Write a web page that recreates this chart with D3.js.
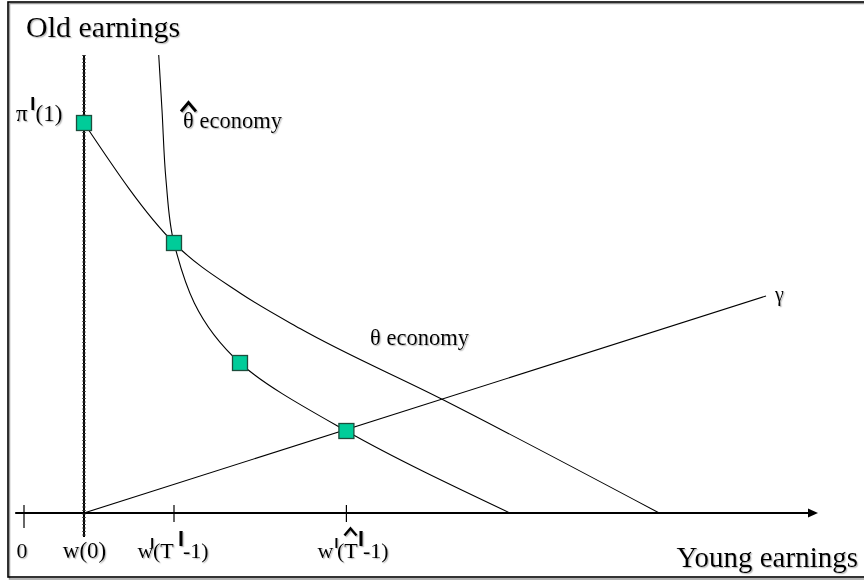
<!DOCTYPE html>
<html>
<head>
<meta charset="utf-8">
<title>Old and young earnings</title>
<script src="https://cdn.jsdelivr.net/npm/d3@7"></script>
<style>
	body {margin:0; background:#ffffff;}
	text {font-family:"Liberation Serif","Times New Roman",serif; fill:#000;}
	.bar {font-family:"Liberation Sans",Arial,sans-serif; font-weight:bold;}
</style>
</head>
<body>
<script>
//curve data (x = young earnings, y = old earnings)
var thetaX = [7.5, 18.75, 27, 34.5, 52.2, 79.4];
var thetaY = [78, 54, 44, 36.9, 22.8, 0];

var hatX = [16.84, 17.25, 17.75, 18.75, 27, 40.3, 60.75];
var hatY = [91.6, 80.6, 66.6, 54, 30, 16.4, 0];

var gammaX = [7.5, 92.75];
var gammaY = [0, 43.4];

//marked points (squares)
var pointX = [7.5, 18.75, 27, 40.3];
var pointY = [78, 54, 30, 16.4];

//ticks on the young earnings axis
var tickX = [0, 7.5, 18.75, 40.3];
var tickLabels = ["0", "w(0)"];

window.onload = function(){

	var w = 864, h = 585;

	var svg = d3.select("body")
		.append("svg")
		.attr("width", w)
		.attr("height", h);

	//soft grey shadow like the slide text
	var defs = svg.append("defs");
	defs.append("filter")
		.attr("id","shadow")
		.attr("x","-10%").attr("y","-10%")
		.attr("width","130%").attr("height","140%")
		.append("feDropShadow")
		.attr("dx",1.2).attr("dy",1.2)
		.attr("stdDeviation",0.6)
		.attr("flood-color","#888")
		.attr("flood-opacity",0.55);

	//scales: 8px per unit across, 5px per unit up
	var x = d3.scaleLinear().domain([0,100]).range([24,824]);
	var y = d3.scaleLinear().domain([0,100]).range([513,13]);

	//frame
	svg.append("rect")
		.attr("x",9.5).attr("y",3.5)
		.attr("width",900).attr("height",575.5)
		.style("fill","none")
		.style("stroke","#9a9a9a")
		.style("stroke-width",1.5);
	svg.append("rect")
		.attr("x",8).attr("y",2)
		.attr("width",900).attr("height",575)
		.style("fill","none")
		.style("stroke","#000")
		.style("stroke-width",1.6);

	//horizontal axis with arrow
	svg.append("line")
		.attr("x1",x(-1.1)).attr("x2",x(98.2))
		.attr("y1",y(0)).attr("y2",y(0))
		.style("stroke","#000")
		.style("stroke-width",1.8);
	svg.append("path")
		.attr("d","M"+x(99.25)+","+y(0)+"l-10,-4.5l0,9z")
		.style("fill","#000");

	//axis ticks
	svg.selectAll(".tick")
		.data(tickX)
		.enter()
		.append("line")
		.attr("class","tick")
		.attr("x1",function(d){ return x(d); })
		.attr("x2",function(d){ return x(d); })
		.attr("y1",y(0)-8)
		.attr("y2",function(d,i){ return i==0 ? y(0)+15 : y(0)+9; })
		.style("stroke","#000")
		.style("stroke-width",1.2);

	//vertical line at w(0) (dotted look)
	svg.append("line")
		.attr("x1",x(7.5)).attr("x2",x(7.5))
		.attr("y1",y(91.6)).attr("y2",y(-4.8))
		.style("stroke","#000")
		.style("stroke-width",2);
	svg.append("line")
		.attr("x1",x(7.5)).attr("x2",x(7.5))
		.attr("y1",y(91.6)).attr("y2",y(-4.8))
		.style("stroke","#333")
		.style("stroke-width",3.5)
		.style("stroke-dasharray","1,2.5");

	//curves: theta smooth along x, theta-hat smooth along y (it starts almost vertical)
	var lineX = d3.line()
		.x(function(d){ return x(d[0]); })
		.y(function(d){ return y(d[1]); })
		.curve(d3.curveMonotoneX);
	var lineY = d3.line()
		.x(function(d){ return x(d[0]); })
		.y(function(d){ return y(d[1]); })
		.curve(d3.curveMonotoneY);

	var curves = [
		{pts: d3.zip(thetaX, thetaY), gen: lineX},
		{pts: d3.zip(hatX, hatY), gen: lineY},
		{pts: d3.zip(gammaX, gammaY), gen: lineX}
	];

	svg.selectAll(".curve")
		.data(curves)
		.enter()
		.append("path")
		.attr("class","curve")
		.attr("d",function(d){ return d.gen(d.pts); })
		.style("fill","none")
		.style("stroke","#000")
		.style("stroke-width",1.1);

	//green squares
	svg.selectAll(".pt")
		.data(d3.zip(pointX, pointY))
		.enter()
		.append("rect")
		.attr("class","pt")
		.attr("x",function(d){ return x(d[0])-7.5; })
		.attr("y",function(d){ return y(d[1])-7.5; })
		.attr("width",15).attr("height",15)
		.style("fill","#00cc99")
		.style("stroke","#1d4d3c")
		.style("stroke-width",1.3);

	//all text goes in one shadowed group
	var txt = svg.append("g").attr("filter","url(#shadow)");

	txt.append("text")
		.attr("x",26).attr("y",37)
		.style("font-size","30px")
		.text("Old earnings");

	txt.append("text")
		.attr("x",858).attr("y",567)
		.attr("text-anchor","end")
		.style("font-size","29px")
		.text("Young earnings");

	//pi^I(1), one text with placed pieces
	var pi = txt.append("text").style("font-size","23px");
	pi.append("tspan").attr("x",16).attr("y",121).text("\u03c0");
	pi.append("tspan").attr("class","bar").attr("x",30.2).attr("y",110)
		.style("font-size","18px").text("I");
	pi.append("tspan").attr("x",35.5).attr("y",121).text("(1)");

	//theta hat economy
	txt.append("text")
		.attr("x",183).attr("y",128)
		.style("font-size","22.5px")
		.text("\u03b8 economy");
	txt.append("path")
		.attr("d","M181,111.5L188.5,102.5L196,111.5")
		.style("fill","none")
		.style("stroke","#000")
		.style("stroke-width",3);

	//theta economy
	txt.append("text")
		.attr("x",370).attr("y",345)
		.style("font-size","22.5px")
		.text("\u03b8 economy");

	//gamma
	txt.append("text")
		.attr("x",x(92.75)+9).attr("y",y(43.4)+5)
		.style("font-size","20px")
		.text("\u03b3");

	//tick labels
	txt.append("text")
		.attr("x",x(0)-2).attr("y",558)
		.attr("text-anchor","middle")
		.style("font-size","22px")
		.text(tickLabels[0]);
	txt.append("text")
		.attr("x",x(7.5)+0.5).attr("y",558)
		.attr("text-anchor","middle")
		.style("font-size","23px")
		.text(tickLabels[1]);

	//w^I(T^I-1)
	var lab3 = txt.append("text").style("font-size","22px");
	lab3.append("tspan").attr("x",137.5).attr("y",558).text("w");
	lab3.append("tspan").attr("class","bar").attr("x",150.3).attr("y",548)
		.style("font-size","14px").text("I");
	lab3.append("tspan").attr("x",153).attr("y",558).text("(T");
	lab3.append("tspan").attr("class","bar").attr("x",178).attr("y",546)
		.style("font-size","22px").text("I");
	lab3.append("tspan").attr("x",183).attr("y",558).text("-1)");

	//w^I(That-1)
	var lab4 = txt.append("text").style("font-size","22px");
	lab4.append("tspan").attr("x",317.5).attr("y",558).text("w");
	lab4.append("tspan").attr("class","bar").attr("x",334.5).attr("y",548)
		.style("font-size","14px").text("I");
	lab4.append("tspan").attr("x",337).attr("y",558).text("(T");
	lab4.append("tspan").attr("class","bar").attr("x",358).attr("y",546)
		.style("font-size","22px").text("I");
	lab4.append("tspan").attr("x",363).attr("y",558).text("-1)");
	txt.append("path")
		.attr("d","M344.5,535.5L350.5,528.5L356.5,535.5")
		.style("fill","none")
		.style("stroke","#000")
		.style("stroke-width",2.6);
};
</script>
</body>
</html>
